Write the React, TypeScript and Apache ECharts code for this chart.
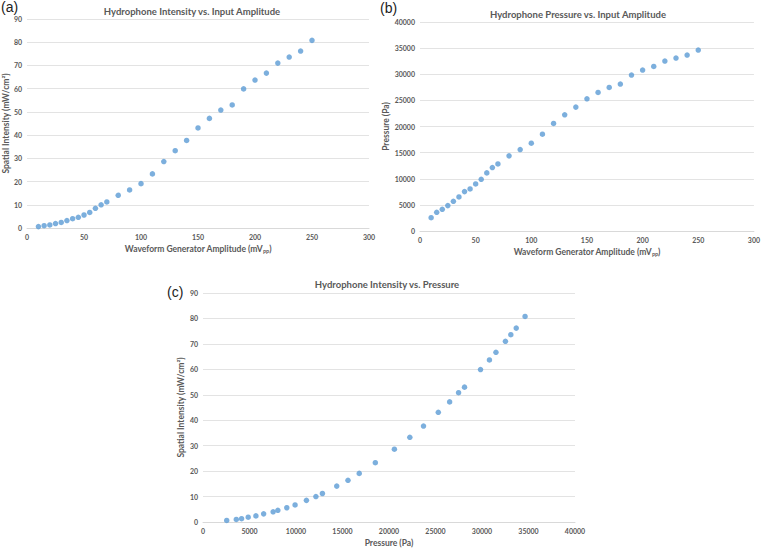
import React, { useEffect, useRef } from "react";
import * as echarts from "echarts";

const amplitude = [10, 15, 20, 25, 30, 35, 40, 45, 50, 55, 60, 65, 70, 80, 90, 100, 110, 120, 130, 140, 150, 160, 170, 180, 190, 200, 210, 220, 230, 240, 250];
const intensity = [0.6, 1.0, 1.3, 1.9, 2.4, 3.2, 4.0, 4.6, 5.6, 6.7, 8.5, 10.0, 11.2, 14.1, 16.4, 19.1, 23.3, 28.6, 33.3, 37.7, 43.1, 47.2, 50.8, 53.0, 59.9, 63.7, 66.7, 71.0, 73.6, 76.2, 80.8];
const pressure = [2550, 3580, 4150, 4860, 5690, 6520, 7540, 8050, 9010, 9900, 11120, 12140, 12840, 14380, 15590, 16800, 18530, 20580, 22240, 23710, 25300, 26520, 27480, 28120, 29840, 30800, 31500, 32520, 33100, 33680, 34630];

const titles = ["Hydrophone Intensity vs. Input Amplitude", "Hydrophone Pressure vs. Input Amplitude", "Hydrophone Intensity vs. Pressure"];
const panelLabels = ["(a)", "(b)", "(c)"];

const FONT = "Lato";
const LABEL_COLOR = "#595959";
const GRID_COLOR = "#e3e3e3";
const DOT = "#5b9bd5";

export default function App() {
  const ref = useRef<HTMLDivElement>(null);
  useEffect(() => {
    if (!ref.current) return;
    const chart = echarts.init(ref.current, undefined, { renderer: "svg" });
    const axisLabel = { color: LABEL_COLOR, fontSize: 7, fontWeight: "bold" as const, fontFamily: FONT, margin: 5, formatter: (v: number) => String(v) };
    const nameStyle = {
      color: LABEL_COLOR,
      fontSize: 8.5,
      fontWeight: "bold" as const,
      fontFamily: FONT,
      rich: {
        s: { fontSize: 5, fontWeight: "bold" as const, color: LABEL_COLOR, fontFamily: FONT, padding: [6, 0, 0, 0] },
      },
    };
    const xAxisBase = {
      type: "value" as const,
      nameLocation: "middle" as const,
      nameTextStyle: nameStyle,
      axisLine: { show: true, lineStyle: { color: "#d9d9d9" } },
      axisTick: { show: false },
      splitLine: { show: false },
      axisLabel,
    };
    const yAxisBase = {
      type: "value" as const,
      nameLocation: "middle" as const,
      nameTextStyle: nameStyle,
      axisLine: { show: false },
      axisTick: { show: false },
      splitLine: { show: true, lineStyle: { color: GRID_COLOR, width: 1 } },
      axisLabel,
    };
    const titleStyle = { color: LABEL_COLOR, fontSize: 9.5, fontWeight: "bold" as const, fontFamily: FONT };
    const panelFont = "14px Liberation Sans";
    chart.setOption({
      animation: false,
      backgroundColor: "#fff",
      title: [
        { text: titles[0], left: 187, top: 1, textAlign: "center", textStyle: titleStyle },
        { text: titles[1], left: 573, top: 4, textAlign: "center", textStyle: titleStyle },
        { text: titles[2], left: 382, top: 274, textAlign: "center", textStyle: titleStyle },
      ],
      graphic: [
        { type: "text", left: 1, top: 0, style: { text: panelLabels[0], fill: "#222", font: panelFont } },
        { type: "text", left: 380, top: 1, style: { text: panelLabels[1], fill: "#222", font: panelFont } },
        { type: "text", left: 167, top: 285, style: { text: panelLabels[2], fill: "#222", font: panelFont } },
      ],
      grid: [
        { left: 25, top: 19, width: 344, height: 209 },
        { left: 420, top: 22, width: 335, height: 209 },
        { left: 203, top: 293, width: 372, height: 229 },
      ],
      xAxis: [
        { ...xAxisBase, gridIndex: 0, min: 0, max: 300, interval: 50, name: "Waveform Generator Amplitude (mV{s|PP})", nameGap: 15 },
        { ...xAxisBase, gridIndex: 1, min: 0, max: 300, interval: 50, name: "Waveform Generator Amplitude (mV{s|PP})", nameGap: 15 },
        { ...xAxisBase, gridIndex: 2, min: 0, max: 40000, interval: 5000, name: "Pressure (Pa)", nameGap: 16 },
      ],
      yAxis: [
        { ...yAxisBase, gridIndex: 0, min: 0, max: 90, interval: 10, name: "Spatial Intensity (mW/cm²)", nameGap: 11 },
        { ...yAxisBase, gridIndex: 1, min: 0, max: 40000, interval: 5000, name: "Pressure (Pa)", nameGap: 23 },
        { ...yAxisBase, gridIndex: 2, min: 0, max: 90, interval: 10, name: "Spatial Intensity (mW/cm²)", nameGap: 13 },
      ],
      series: [
        { type: "scatter", xAxisIndex: 0, yAxisIndex: 0, symbolSize: 5.5, itemStyle: { color: DOT }, data: amplitude.map((a, i) => [a, intensity[i]]) },
        { type: "scatter", xAxisIndex: 1, yAxisIndex: 1, symbolSize: 5.5, itemStyle: { color: DOT }, data: amplitude.map((a, i) => [a, pressure[i]]) },
        { type: "scatter", xAxisIndex: 2, yAxisIndex: 2, symbolSize: 5.5, itemStyle: { color: DOT }, data: pressure.map((p, i) => [p, intensity[i]]) },
      ],
    });
    return () => chart.dispose();
  }, []);
  return <div ref={ref} style={{ position: "fixed", left: 0, top: 0, width: 763, height: 550 }} />;
}
